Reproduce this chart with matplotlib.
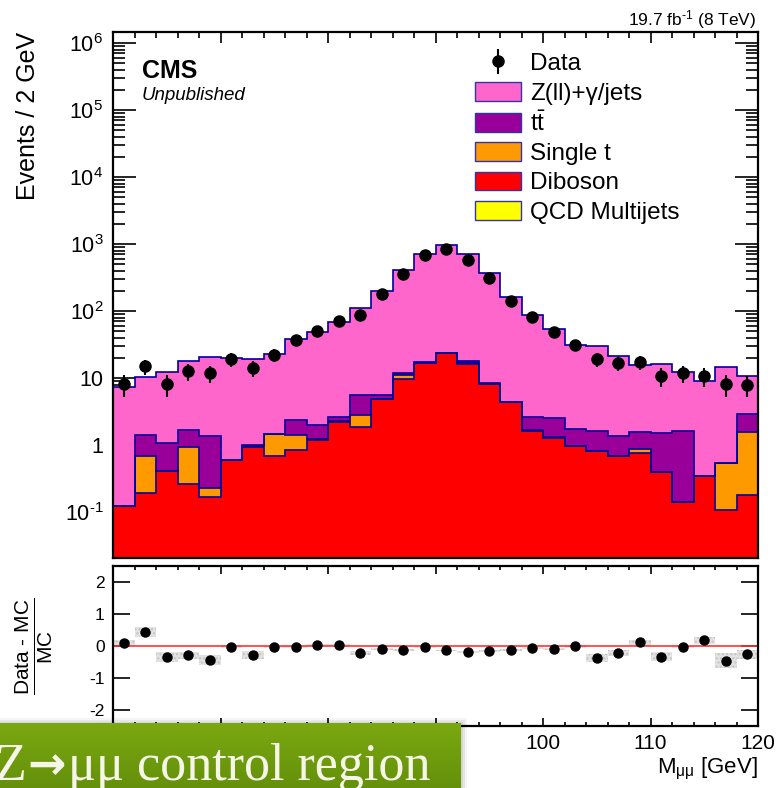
import numpy as np
import matplotlib
matplotlib.use('Agg')
import matplotlib.pyplot as plt
from matplotlib.ticker import FixedLocator, FixedFormatter, MultipleLocator, LogLocator, NullFormatter
from matplotlib.patches import Patch, Rectangle

plt.rcParams['font.family'] = ['Liberation Sans', 'DejaVu Sans']
plt.rcParams['mathtext.fontset'] = 'custom'
plt.rcParams['mathtext.rm'] = 'Liberation Sans'
plt.rcParams['mathtext.it'] = 'Liberation Sans:italic'
plt.rcParams['mathtext.bf'] = 'Liberation Sans:bold'
plt.rcParams['axes.unicode_minus'] = False

# Бины по массе M_mumu (2 ГэВ)
mass_edges = np.arange(60, 121, 2)

# Данные (события на бин)
data = [8.1, 15, 8.1, 12.7, 11.8, 19.2, 14, 22, 37, 50, 71, 87, 179, 357, 690,
        850, 575, 310, 141, 81, 49, 31, 19, 16.7, 17.3, 10.7, 11.8, 10.7, 8.1, 8.0]

# Вклады MC
zjets = [7.2, 9.0, 11.3, 16.4, 19.5, 19.1, 18.5, 21.1, 35.9, 46.6, 66.7, 107, 193, 402, 699,
         954, 691, 361, 159, 83.4, 51.5, 29.7, 28.4, 20.2, 14.0, 14.5, 10.6, 8.7, 14.3, 7.8]
ttbar = [0, 0.745, 0.656, 0.716, 1.12, 0.003, 0.04, 0.02, 0.93, 0.76, 0.4, 2.77, 0.72, 0.9, 0.3,
         0.3, 1.3, 0.15, 0.05, 0.93, 1.24, 0.73, 0.8, 0.67, 0.689, 1.13, 1.5, 0, 0, 1.38]
single_t = [0, 0.495, 0, 0.682, 0.064, 0, 0.006, 0.755, 0.57, 0.02, 0.02, 0.96, 0.04, 1.44, 0.1,
            0.2, 0.6, 0.05, 0.02, 0.02, 0.01, 0.004, 0.007, 0.002, 0.11, 0.005, 0.001, 0, 0.439, 1.383]
diboson = [0.124, 0.19, 0.414, 0.262, 0.166, 0.597, 0.944, 0.685, 0.84, 1.19, 2.23, 1.84, 4.81, 9.66, 16.9,
           23.4, 16.2, 8.1, 4.33, 1.64, 1.29, 0.976, 0.813, 0.678, 0.751, 0.395, 0.139, 0.344, 0.105, 0.177]
qcd = [0] * 30

# Неопределённость отношения (полувысота серых прямоугольников)
ratio_err = [0.08, 0.17, 0.17, 0.1, 0.16, 0.05, 0.11, 0.04, 0.04, 0.03, 0.03, 0.06, 0.04, 0.03, 0.02,
             0.02, 0.02, 0.03, 0.03, 0.04, 0.04, 0.05, 0.13, 0.09, 0.08, 0.13, 0.03, 0.11, 0.22, 0.14]

ytick_vals = [1e-1, 1, 10, 1e2, 1e3, 1e4, 1e5, 1e6]
ytick_labels = [r'10$^{\text{-}1}$', '1', '10', '10$^{2}$', '10$^{3}$', '10$^{4}$', '10$^{5}$', '10$^{6}$']
xtick_vals = [60, 70, 80, 90, 100, 110, 120]
xtick_labels = ['', '', '', '', '100', '110', '120']  # 60-90 закрыты плашкой

samples = [('QCD Multijets', qcd, '#ffff00'),
           ('Diboson', diboson, '#ff0000'),
           ('Single t', single_t, '#ff9900'),
           (r'$\mathrm{t\bar{t}}$', ttbar, '#990099'),
           ('Z(ll)+γ/jets', zjets, '#ff66cc')]
edge_col = '#000099'

fig = plt.figure(figsize=(7.79, 7.88), dpi=100)
ax = fig.add_axes([113 / 779, 1 - 558 / 788, 645 / 779, 526 / 788])
rax = fig.add_axes([113 / 779, 1 - 726 / 788, 645 / 779, 160 / 788])

centers = 0.5 * (mass_edges[:-1] + mass_edges[1:])
base = 1e-3
cum = np.full(len(centers), base)
stack = []
for name, vals, col in samples:
    top = cum + np.array(vals)
    stack.append((name, top.copy(), col))
    cum = top
# рисуем сверху вниз, чтобы контуры были видны
for name, top, col in reversed(stack):
    ax.stairs(top, mass_edges, baseline=base, fill=True, color=col, zorder=2)
    ax.stairs(top, mass_edges, baseline=None, color=edge_col, lw=1.2, zorder=3)

mc_total = cum - base
data = np.array(data)
eb = ax.errorbar(centers, data, yerr=np.sqrt(data), fmt='o', color='black', ms=8,
                 elinewidth=1.5, capsize=0, zorder=5)

ax.set_yscale('log')
ax.set_xlim(60, 120)
ax.set_ylim(0.0206, 1.46e6)
ax.yaxis.set_major_locator(FixedLocator(ytick_vals))
ax.yaxis.set_major_formatter(FixedFormatter(ytick_labels))
ax.yaxis.set_minor_locator(LogLocator(base=10, subs=np.arange(2, 10), numticks=100))
ax.yaxis.set_minor_formatter(NullFormatter())
ax.xaxis.set_major_locator(MultipleLocator(10))
ax.xaxis.set_minor_locator(MultipleLocator(2))
ax.tick_params(which='both', direction='in', top=True, right=True, width=1.2)
ax.tick_params(axis='y', which='major', length=16.5, labelsize=15.5, pad=7)
ax.tick_params(axis='y', which='minor', length=8.5)
ax.tick_params(axis='x', which='major', length=8, labelbottom=False)
ax.tick_params(axis='x', which='minor', length=4.5)
for s in ax.spines.values():
    s.set_linewidth(1.6)
ax.set_ylabel('Events / 2 GeV', fontsize=18, loc='top')
ax.yaxis.set_label_coords(-0.113, 1.0)

fig.text(142 / 779, 1 - 71 / 788, 'CMS', fontsize=18, fontweight='bold', va='center')
fig.text(142 / 779, 1 - 95 / 788, 'Unpublished', fontsize=13.5, style='italic', va='center')
fig.text(756 / 779, 1 - 20 / 788, '19.7 fb$^{\\text{-}1}$ (8 TeV)', fontsize=12.5, ha='right', va='center')

handles = [eb] + [Patch(facecolor=col, edgecolor='#3333aa', lw=1.0) for name, v, col in reversed(samples)]
labels = ['Data'] + [name for name, v, col in reversed(samples)]
ax.legend(handles, labels, loc='upper left', bbox_to_anchor=(475 / 779, 1 - 52.5 / 788),
          bbox_transform=fig.transFigure, frameon=False, fontsize=17.5, borderpad=0,
          borderaxespad=0, handlelength=1.9, handleheight=0.82, handletextpad=0.37,
          labelspacing=0.265)

# Панель отношения
ratio = data / mc_total - 1
rax.bar(centers, 2 * np.array(ratio_err), bottom=ratio - np.array(ratio_err), width=2,
        color='#e2e2e2', edgecolor='#c4c4c4', hatch='....', lw=0, zorder=1)
rax.axhline(0, color='#ff3333', lw=1.2, zorder=2)
rax.plot(centers, ratio, 'o', color='black', ms=6.5, zorder=3)
rax.set_xlim(60, 120)
rax.set_ylim(-2.5, 2.5)
rax.yaxis.set_major_locator(MultipleLocator(1))
rax.xaxis.set_major_locator(FixedLocator(xtick_vals))
rax.xaxis.set_major_formatter(FixedFormatter(xtick_labels))
rax.xaxis.set_minor_locator(MultipleLocator(2))
rax.tick_params(which='both', direction='in', top=True, right=True, width=1.2)
rax.tick_params(axis='y', which='major', length=12.5, labelsize=12.5, pad=6)
rax.tick_params(axis='x', which='major', length=6, labelsize=15, pad=6)
rax.tick_params(axis='x', which='minor', length=3)
for s in rax.spines.values():
    s.set_linewidth(1.6)
rax.set_ylabel(r'$\frac{\mathrm{Data\ \text{-}\ MC}}{\mathrm{MC}}$', fontsize=21.5)
rax.yaxis.set_label_coords(-0.09, 0.5)
rax.set_xlabel(r'M$_{\mathrm{\mu\mu}}$ [GeV]', fontsize=16, loc='right', labelpad=2)

# Зелёная плашка
for k, a in enumerate([0.08, 0.06, 0.04]):
    fig.patches.append(Rectangle((0, 0), (461 + 2 + 2 * k) / 779, (65 + 1 + 2 * k) / 788,
                                 transform=fig.transFigure, facecolor='black', alpha=a,
                                 edgecolor='none', zorder=9))
gax = fig.add_axes([0, 0, 461 / 779, 65 / 788], zorder=10)
grad = np.linspace(0, 1, 50).reshape(-1, 1)
gax.imshow(grad, aspect='auto', cmap=matplotlib.colors.LinearSegmentedColormap.from_list(
    'g', ['#7aa80f', '#65900c']), extent=[0, 1, 0, 1], origin='upper')
gax.set_axis_off()

banner_col = '#f6f6e8'
serif = ['Liberation Serif', 'DejaVu Serif']
renderer = fig.canvas.get_renderer()
t1 = gax.text(-5 / 461, 8 / 65, 'Z', fontsize=37.5, color=banner_col, family=serif,
              ha='left', va='baseline', transform=gax.transAxes)
x1 = gax.transAxes.inverted().transform(t1.get_window_extent(renderer))[1, 0]
t2 = gax.text(x1 + 1 / 461, 9 / 65, '→', fontsize=33, color=banner_col, family='DejaVu Sans',
              fontweight='bold', ha='left', va='baseline', transform=gax.transAxes)
x2 = gax.transAxes.inverted().transform(t2.get_window_extent(renderer))[1, 0]
gax.text(x2 + 2 / 461, 8 / 65, 'μμ control region', fontsize=37.5, color=banner_col, family=serif,
         ha='left', va='baseline', transform=gax.transAxes)

fig.savefig('out.png', dpi=100)
